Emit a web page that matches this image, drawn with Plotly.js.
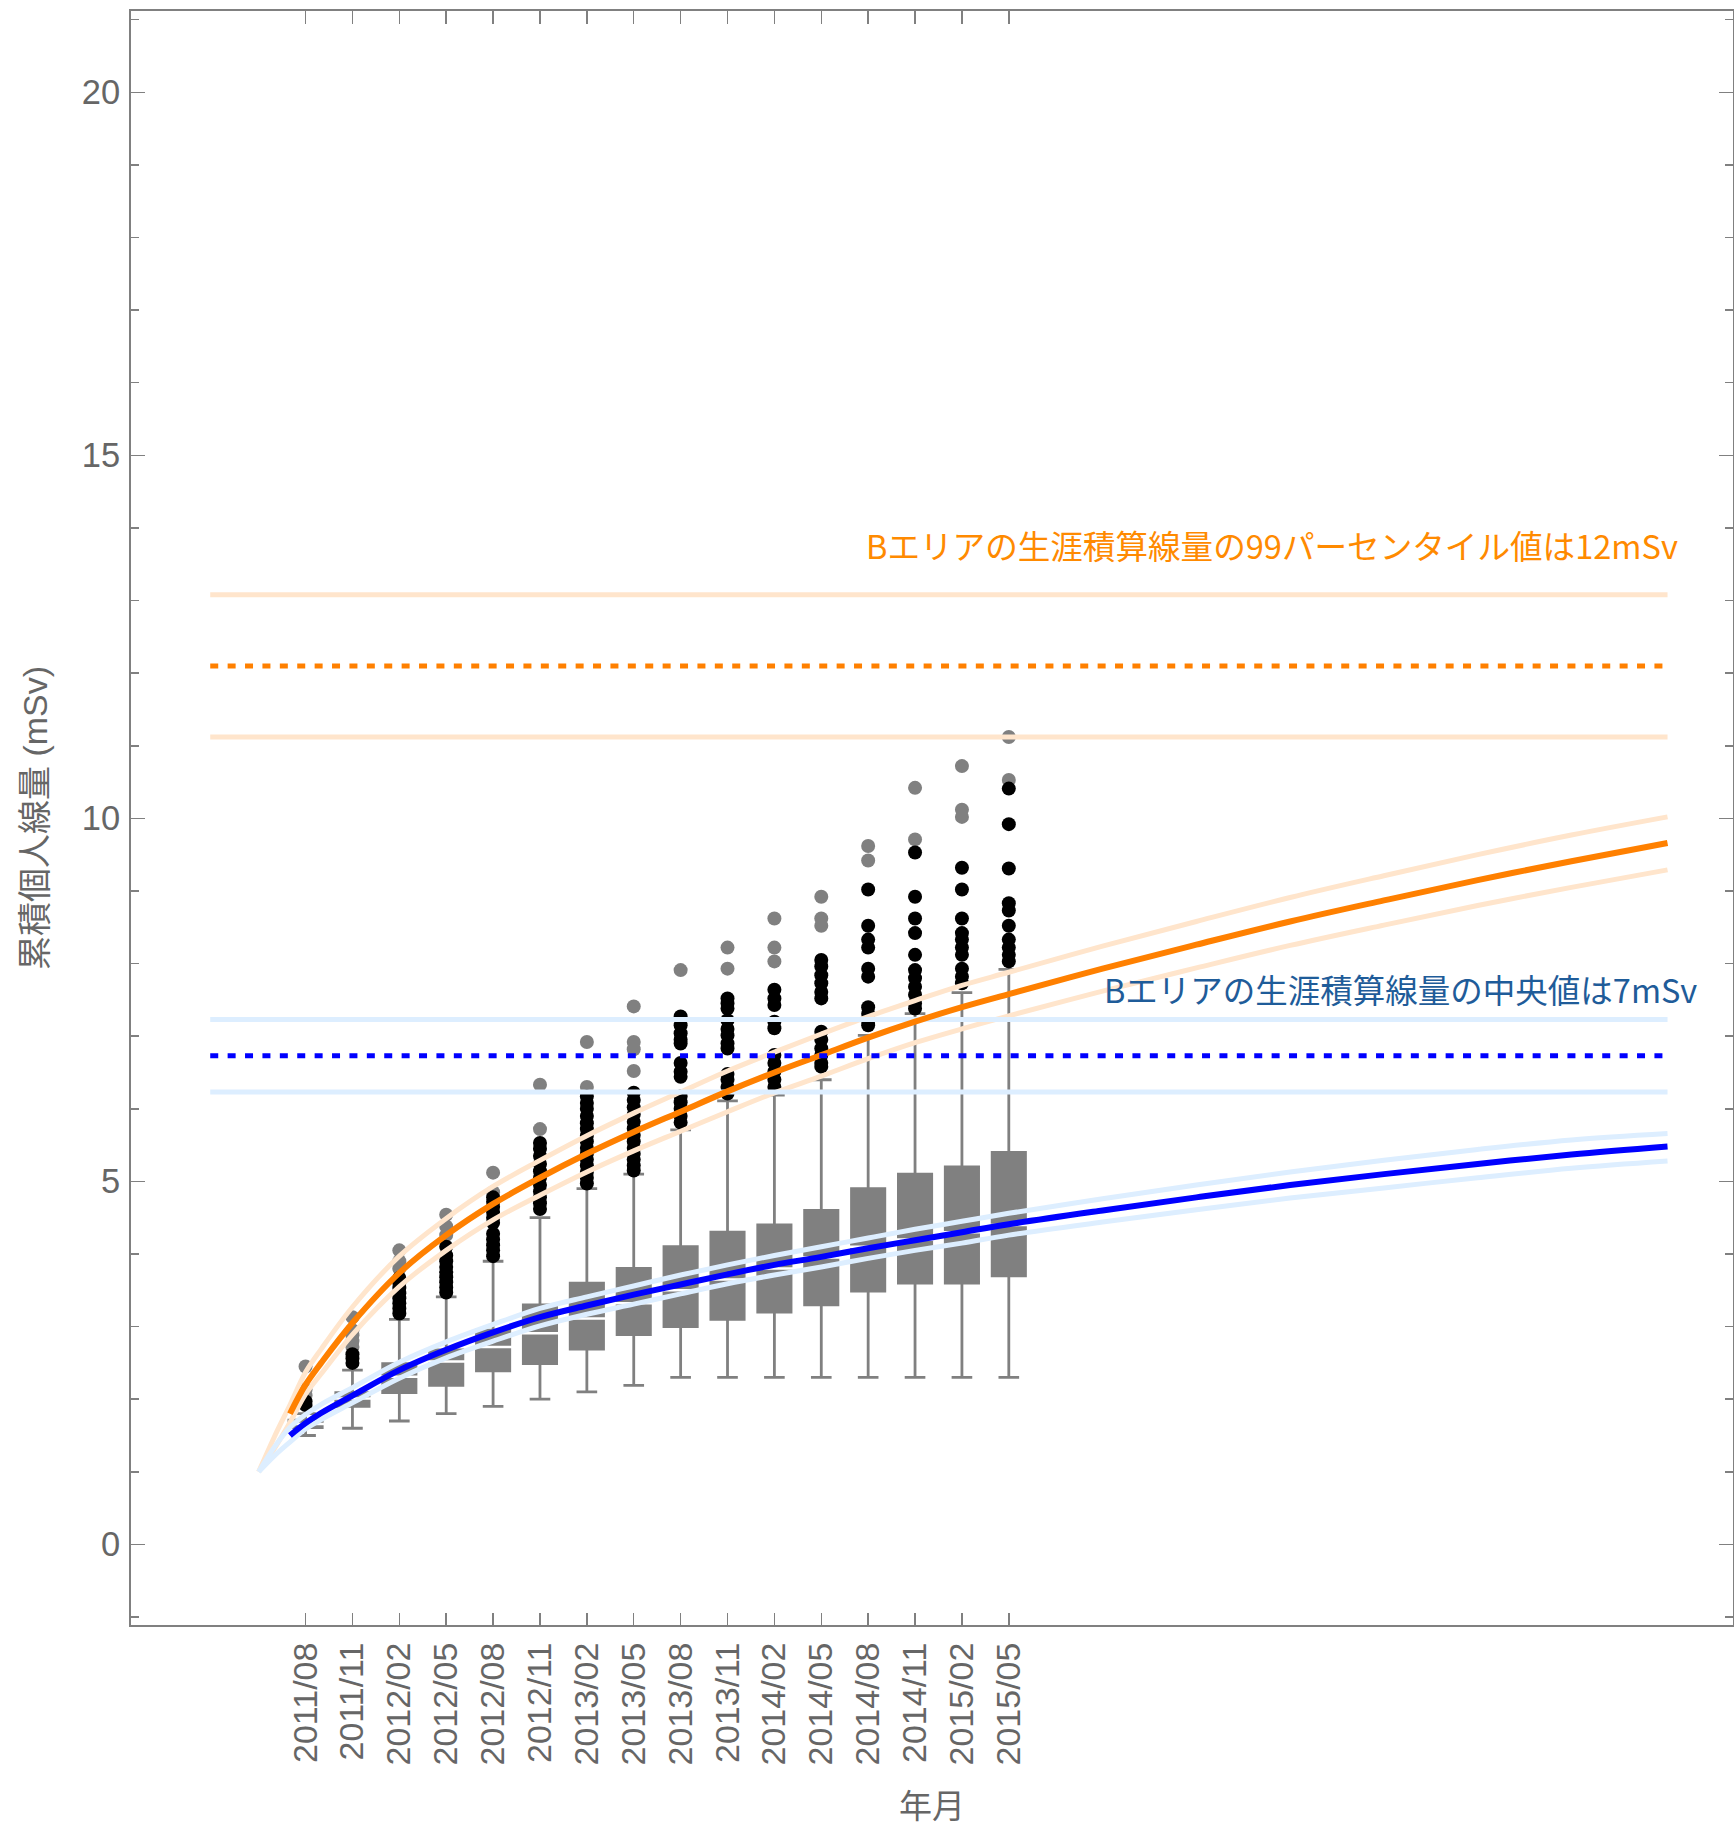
<!DOCTYPE html>
<html>
<head>
<meta charset="utf-8">
<script src="https://cdn.plot.ly/plotly-3.0.1.min.js"></script>
<style>html,body{margin:0;padding:0;background:#fff;}</style>
</head>
<body>
<div id="chart" style="width:1734px;height:1828px;"></div>
<script>
// x values are months counted from 2011/03
const tickMonths = [5, 8, 11, 14, 17, 20, 23, 26, 29, 32, 35, 38, 41, 44, 47, 50];
const tickLabels = ["2011/08","2011/11","2012/02","2012/05","2012/08","2012/11","2013/02","2013/05",
                    "2013/08","2013/11","2014/02","2014/05","2014/08","2014/11","2015/02","2015/05"];

// box statistics (mSv)
const boxLow  = [1.50, 1.60, 1.70, 1.80, 1.90, 2.00, 2.10, 2.19, 2.30, 2.30, 2.30, 2.30, 2.30, 2.30, 2.30, 2.30];
const boxQ1   = [1.61, 1.90, 2.09, 2.19, 2.39, 2.49, 2.69, 2.89, 3.00, 3.10, 3.20, 3.30, 3.49, 3.60, 3.60, 3.70];
const boxMed  = [1.66, 2.01, 2.31, 2.52, 2.72, 2.91, 3.11, 3.32, 3.50, 3.65, 3.80, 3.95, 4.10, 4.20, 4.30, 4.40];
const boxQ3   = [1.71, 2.09, 2.49, 2.68, 2.95, 3.30, 3.60, 3.80, 4.10, 4.30, 4.40, 4.60, 4.90, 5.10, 5.20, 5.40];
const boxHigh = [1.80, 2.40, 3.10, 3.41, 3.90, 4.50, 4.90, 5.10, 5.71, 6.11, 6.19, 6.40, 7.01, 7.31, 7.60, 7.92];

// outliers per date (near = black, far = gray)
const nearOutliers = [
  [1.92, 1.97],
  [2.50, 2.56, 2.62],
  [3.18, 3.25, 3.32, 3.39, 3.46, 3.53, 3.60, 3.67],
  [3.47, 3.54, 3.61, 3.68, 3.75, 3.82, 3.90, 3.98, 4.10],
  [3.97, 4.05, 4.12, 4.20, 4.28, 4.43, 4.50, 4.58, 4.65, 4.72, 4.78],
  [4.62, 4.70, 4.78, 4.86, 4.95, 5.05, 5.14, 5.24, 5.35, 5.45, 5.53],
  [4.97, 5.05, 5.13, 5.22, 5.30, 5.38, 5.46, 5.55, 5.63, 5.72, 5.80, 5.90, 6.00, 6.08, 6.17],
  [5.15, 5.22, 5.30, 5.38, 5.46, 5.55, 5.64, 5.73, 5.82, 5.92, 6.02, 6.12, 6.22],
  [5.81, 5.90, 6.00, 6.09, 6.17, 6.44, 6.51, 6.63, 6.90, 6.95, 7.04, 7.15, 7.27],
  [6.21, 6.30, 6.40, 6.48, 6.83, 6.90, 7.01, 7.10, 7.22, 7.38, 7.45, 7.52],
  [6.30, 6.40, 6.51, 6.63, 6.74, 7.11, 7.20, 7.43, 7.52, 7.64],
  [6.58, 6.63, 6.74, 6.83, 6.95, 7.06, 7.52, 7.61, 7.73, 7.84, 7.96, 8.05],
  [7.15, 7.22, 7.31, 7.40, 7.82, 7.93, 8.22, 8.33, 8.52, 9.02],
  [7.38, 7.45, 7.57, 7.68, 7.80, 7.91, 8.12, 8.42, 8.62, 8.92, 9.53],
  [7.73, 7.82, 7.93, 8.12, 8.22, 8.33, 8.42, 8.62, 9.02, 9.32],
  [8.03, 8.12, 8.22, 8.33, 8.52, 8.73, 8.83, 9.31, 9.92, 10.41]
];
const farOutliers = [
  [2.05, 2.13, 2.45],
  [2.72, 2.80, 2.88, 2.95, 3.13],
  [3.80, 3.90, 4.05],
  [4.26, 4.38, 4.54],
  [4.85, 5.12],
  [5.72, 6.33],
  [6.30, 6.92],
  [6.52, 6.82, 6.92, 7.41],
  [7.91],
  [7.93, 8.22],
  [8.03, 8.22, 8.62],
  [8.52, 8.62, 8.92],
  [9.42, 9.62],
  [9.71, 10.42],
  [10.02, 10.12, 10.72],
  [10.53, 11.12]
];

// fitted curves
const curveX   = [4, 5, 6, 8, 11, 14, 17, 20, 23, 26, 29, 32, 35, 38, 41, 44, 47, 50, 56, 62, 68, 74, 80, 86, 92.15];
const orangeMid = [1.80, 2.20, 2.50, 3.05, 3.74, 4.26, 4.69, 5.05, 5.38, 5.68, 5.96, 6.24, 6.50, 6.74, 6.98, 7.20, 7.40, 7.58, 7.93, 8.26, 8.58, 8.87, 9.15, 9.41, 9.66];
const blueMid   = [1.50, 1.67, 1.81, 2.05, 2.40, 2.68, 2.92, 3.13, 3.29, 3.44, 3.58, 3.72, 3.85, 3.96, 4.08, 4.19, 4.30, 4.41, 4.60, 4.78, 4.95, 5.10, 5.24, 5.37, 5.48];

const bandX       = [2, 3, 4, 5, 6, 8, 11, 14, 17, 20, 23, 26, 29, 32, 35, 38, 41, 44, 47, 50, 56, 62, 68, 74, 80, 86, 92.15];
const orangeUpper = [1.00, 1.48, 1.92, 2.37, 2.69, 3.27, 3.97, 4.49, 4.93, 5.29, 5.63, 5.94, 6.23, 6.52, 6.78, 7.03, 7.27, 7.49, 7.70, 7.88, 8.24, 8.58, 8.91, 9.21, 9.50, 9.77, 10.02];
const orangeLower = [1.00, 1.32, 1.68, 2.07, 2.35, 2.89, 3.55, 4.05, 4.47, 4.81, 5.13, 5.42, 5.69, 5.96, 6.22, 6.45, 6.69, 6.91, 7.10, 7.28, 7.62, 7.94, 8.25, 8.53, 8.80, 9.05, 9.29];
const blueUpper   = [1.00, 1.34, 1.61, 1.79, 1.93, 2.16, 2.51, 2.79, 3.03, 3.25, 3.41, 3.56, 3.71, 3.85, 3.98, 4.10, 4.22, 4.34, 4.45, 4.56, 4.76, 4.95, 5.13, 5.29, 5.44, 5.57, 5.66];
const blueLower   = [1.00, 1.22, 1.41, 1.59, 1.72, 1.95, 2.29, 2.57, 2.80, 3.01, 3.17, 3.31, 3.45, 3.59, 3.71, 3.82, 3.94, 4.05, 4.15, 4.26, 4.44, 4.61, 4.77, 4.91, 5.05, 5.18, 5.28];

// lifetime reference levels
const levelX = [-1.1, 92.15];
const orangeLevel = [11.12, 12.10, 13.08];
const blueLevel   = [6.23, 6.73, 7.23];

const orangeText = "Bエリアの生涯積算線量の99パーセンタイル値は12mSv";
const blueText   = "Bエリアの生涯積算線量の中央値は7mSv";
const yTitle = "累積個人線量 (mSv)";
const xTitle = "年月";

// ---- build traces ----
const GRAY = "#808080";
const LIGHT_OR = "#ffe5cc", LIGHT_BL = "#ddeeff";
const traces = [];

traces.push({
  type: "box", x: tickMonths, q1: boxQ1, median: boxMed, q3: boxQ3,
  lowerfence: boxLow, upperfence: boxHigh, boxpoints: false,
  width: 2.13, whiskerwidth: 0.62,
  fillcolor: GRAY, line: {color: GRAY, width: 2.8}, hoverinfo: "skip"
});
traces.push({
  type: "scatter", mode: "markers", x: tickMonths, y: boxMed,
  marker: {symbol: "line-ew", size: 36, line: {color: "#ffffff", width: 2.5}}, hoverinfo: "skip"
});

function flatten(groups) {
  const xs = [], ys = [];
  groups.forEach((g, i) => g.forEach(v => { xs.push(tickMonths[i]); ys.push(v); }));
  return {xs, ys};
}
const far = flatten(farOutliers), near = flatten(nearOutliers);
traces.push({type: "scatter", mode: "markers", x: far.xs, y: far.ys,
  marker: {color: GRAY, size: 14}, hoverinfo: "skip"});
traces.push({type: "scatter", mode: "markers", x: near.xs, y: near.ys,
  marker: {color: "#000000", size: 14}, hoverinfo: "skip"});

function line(x, y, color, width, dash) {
  return {type: "scatter", mode: "lines", x: x, y: y, hoverinfo: "skip",
    line: {color: color, width: width, dash: dash || "solid", shape: "spline", smoothing: 1}};
}
// light bands
traces.push(line(bandX, orangeUpper, LIGHT_OR, 5));
traces.push(line(bandX, orangeLower, LIGHT_OR, 5));
traces.push(line(bandX, blueUpper, LIGHT_BL, 5));
traces.push(line(bandX, blueLower, LIGHT_BL, 5));
traces.push(line(levelX, [orangeLevel[0], orangeLevel[0]], LIGHT_OR, 5));
traces.push(line(levelX, [orangeLevel[2], orangeLevel[2]], LIGHT_OR, 5));
traces.push(line(levelX, [blueLevel[0], blueLevel[0]], LIGHT_BL, 5));
traces.push(line(levelX, [blueLevel[2], blueLevel[2]], LIGHT_BL, 5));
// main curves
traces.push(line(curveX, orangeMid, "#ff8000", 6));
traces.push(line(curveX, blueMid, "#0000ff", 6));
// dotted levels
traces.push(line(levelX, [orangeLevel[1], orangeLevel[1]], "#ff8000", 5, "8px,9.4px"));
traces.push(line(levelX, [blueLevel[1], blueLevel[1]], "#0000ff", 5, "8px,9.4px"));

const FONT = "'Liberation Sans', Arial, 'Noto Sans CJK JP', sans-serif";
const CJK = "'Noto Sans CJK JP', sans-serif";
const TXT = "#666666";

const layout = {
  width: 1734, height: 1828,
  margin: {l: 131, r: 1, t: 11, b: 203, pad: 0},
  paper_bgcolor: "#ffffff", plot_bgcolor: "#ffffff",
  showlegend: false,
  font: {family: FONT, color: TXT, size: 34},
  xaxis: {
    range: [-6.17, 96.34], tickmode: "array", tickvals: tickMonths, ticktext: tickLabels,
    tickangle: -90, ticks: "inside", ticklen: 12.5, tickwidth: 1.5, tickcolor: GRAY,
    showline: true, linecolor: GRAY, linewidth: 2, mirror: "ticks",
    showgrid: false, zeroline: false, ticklabelstandoff: 2,
    tickfont: {family: FONT, size: 34, color: TXT},
    title: {text: xTitle, font: {family: CJK, size: 33, color: TXT}, standoff: 30}
  },
  yaxis: {
    range: [-1.11, 21.12], tickmode: "linear", tick0: 0, dtick: 5,
    ticks: "inside", ticklen: 14, tickwidth: 1.5, tickcolor: GRAY,
    minor: {tick0: 0, dtick: 1, ticks: "inside", ticklen: 8, tickwidth: 1.5, tickcolor: GRAY, showgrid: false},
    showline: true, linecolor: GRAY, linewidth: 2, mirror: "ticks",
    showgrid: false, zeroline: false, ticklabelstandoff: 2,
    tickfont: {family: FONT, size: 34.5, color: TXT},
    title: {text: yTitle, font: {family: FONT, size: 34, color: TXT}, standoff: 24}
  },
  annotations: [
    {text: orangeText, xref: "paper", yref: "y", x: 0.967, y: 13.77, xanchor: "right", yanchor: "middle",
     showarrow: false, font: {family: CJK, size: 32.6, color: "#ff8a00"}},
    {text: blueText, xref: "paper", yref: "y", x: 0.979, y: 7.66, xanchor: "right", yanchor: "middle",
     showarrow: false, font: {family: CJK, size: 32.5, color: "#1f5c99"}}
  ]
};

Plotly.newPlot("chart", traces, layout, {staticPlot: true, displayModeBar: false});
</script>
</body>
</html>
